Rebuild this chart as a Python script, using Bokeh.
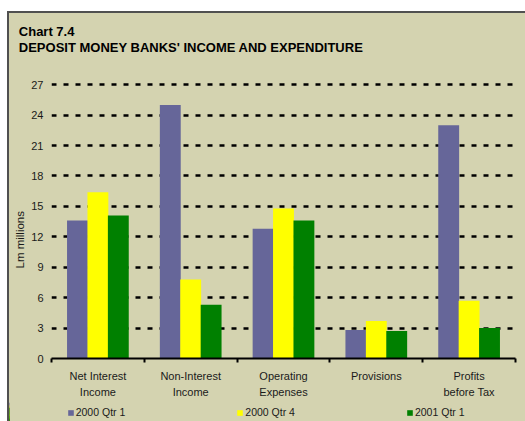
import numpy as np
from bokeh.plotting import figure
from bokeh.layouts import column, row
from bokeh.models import (ColumnDataSource, FixedTicker, Range1d, Title, Legend, LegendItem,
                          Label, Spacer)
from bokeh.transform import dodge
from bokeh.embed import file_html
from bokeh.resources import INLINE

# ---- data ----
categories = ["Net Interest\nIncome", "Non-Interest\nIncome", "Operating\nExpenses",
              "Provisions", "Profits\nbefore Tax"]
series_names = ["2000 Qtr 1", "2000 Qtr 4", "2001 Qtr 1"]
q1_2000 = [13.6, 25.0, 12.8, 2.8, 23.0]
q4_2000 = [16.4, 7.8, 14.8, 3.7, 5.7]
q1_2001 = [14.1, 5.3, 13.6, 2.7, 3.0]
y_ticks = [0, 3, 6, 9, 12, 15, 18, 21, 24, 27]
chart_no = "Chart 7.4"
chart_title = "DEPOSIT MONEY BANKS' INCOME AND EXPENDITURE"
y_title = "Lm millions"

BG = "#D4D3B0"
EDGE = "#505050"
COLORS = ["#666699", "#FFFF00", "#008000"]
FONT = "Liberation Sans"
W = 516


def plain(fig):
    fig.background_fill_color = BG
    fig.border_fill_color = BG
    fig.outline_line_color = None
    fig.grid.grid_line_color = None
    try:
        fig.frame_align = False
    except Exception:
        pass


xpos = np.arange(len(categories)) + 0.5
src = ColumnDataSource(dict(x=xpos, a=q1_2000, b=q4_2000, c=q1_2001))

# ---- title strip ----
p0 = figure(width=W, height=50, output_backend="svg", toolbar_location=None,
            x_range=Range1d(0, W), y_range=Range1d(0, 50),
            x_axis_location=None, y_axis_location=None,
            min_border_left=0, min_border_right=0, min_border_top=0, min_border_bottom=0)
plain(p0)
p0.add_layout(Label(x=9.3, y=32.3, text=chart_no, text_font=FONT, text_font_size="13px",
                    text_font_style="bold", text_color="black", text_baseline="alphabetic"))
p0.add_layout(Label(x=9.3, y=16.3, text=chart_title, text_font=FONT, text_font_size="13px",
                    text_font_style="bold", text_color="black", text_baseline="alphabetic"))

# ---- main chart ----
p = figure(width=W, height=339, output_backend="svg", toolbar_location=None,
           x_range=Range1d(0, 5), y_range=Range1d(0, 28),
           min_border_left=42, min_border_right=10, min_border_top=11, min_border_bottom=44)
plain(p)
p.ygrid.ticker = FixedTicker(ticks=y_ticks[1:])
p.ygrid.grid_line_color = "black"
p.ygrid.grid_line_width = 2.5
p.ygrid.grid_line_dash = "5 7"

offsets = [-0.22, 0.0, 0.22]
for key, off, col in zip(["a", "b", "c"], offsets, COLORS):
    p.vbar(x=dodge("x", off, range=p.x_range), top=key, width=0.225, bottom=0,
           source=src, fill_color=col, line_color=None)

yax = p.yaxis[0]
yax.ticker = FixedTicker(ticks=y_ticks)
yax.axis_line_color = None
yax.major_tick_line_color = None
yax.minor_tick_line_color = None
yax.major_tick_out = 0
yax.major_tick_in = 0
yax.major_label_standoff = 8
yax.major_label_text_font = FONT
yax.major_label_text_font_size = "11px"
yax.major_label_text_color = "#1a1a1a"

xax = p.xaxis[0]
xax.ticker = FixedTicker(ticks=list(xpos), minor_ticks=list(range(len(categories) + 1)))
xax.major_label_overrides = {float(t): c for t, c in zip(xpos, categories)}
xax.axis_line_color = "black"
xax.axis_line_width = 2
xax.major_tick_line_color = None
xax.major_tick_out = 0
xax.major_tick_in = 0
xax.minor_tick_line_color = "black"
xax.minor_tick_line_width = 2
xax.minor_tick_out = 4
xax.minor_tick_in = 0
xax.major_label_standoff = 7
xax.major_label_text_font = FONT
xax.major_label_text_font_size = "11px"
xax.major_label_text_line_height = 1.36
xax.major_label_text_color = "#1a1a1a"

p.add_layout(Title(text=y_title, align="left", offset=90, standoff=5,
                   text_font=FONT, text_font_size="11.5px", text_font_style="normal",
                   text_color="#1a1a1a"), "left")

# ---- legend strip ----
p2 = figure(width=W, height=19, output_backend="svg", toolbar_location=None,
            x_range=Range1d(1000, 1000 + W), y_range=Range1d(0, 19),
            x_axis_location=None, y_axis_location=None,
            min_border_left=0, min_border_right=0, min_border_top=0, min_border_bottom=0)
plain(p2)
leg_renderers = [p2.vbar(x="x", top=key, width=0.225, source=src, fill_color=c, line_color=None)
                 for key, c in zip(["a", "b", "c"], COLORS)]
legend = Legend(items=[LegendItem(label=n, renderers=[r]) for n, r in zip(series_names, leg_renderers)],
                location=(57.7, 3), orientation="horizontal",
                glyph_width=7, glyph_height=7, label_standoff=2, spacing=111,
                padding=0, margin=0, label_height=10,
                label_text_font=FONT, label_text_font_size="10.5px", label_text_color="#1a1a1a",
                background_fill_alpha=0, border_line_color=None)
p2.add_layout(legend, "center")

# ---- outer frame: white margin plus dark top/left edge ----
inner = column(p0, p, p2, spacing=0, styles={"background-color": BG})
framed = row(Spacer(width=2, height=408, styles={"background-color": EDGE}), inner, spacing=0,
             styles={"background-color": BG})
boxed = column(Spacer(width=518, height=2, styles={"background-color": EDGE}), framed, spacing=0,
               styles={"background-color": BG})
layout = column(Spacer(width=525, height=11),
                row(Spacer(width=7, height=410), boxed, spacing=0), spacing=0)

open("out.html", "w").write(file_html(layout, INLINE))
